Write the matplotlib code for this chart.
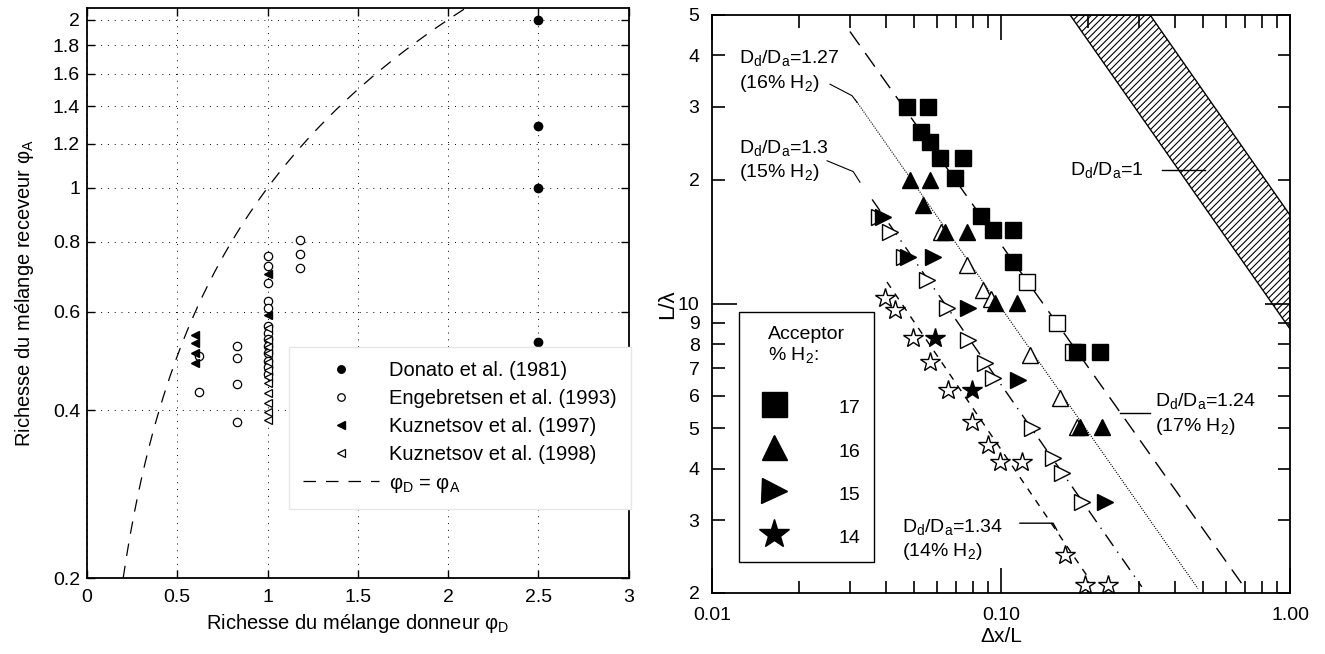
import matplotlib
matplotlib.use('Agg')
import matplotlib.pyplot as plt
import numpy as np
from matplotlib.lines import Line2D
from matplotlib.patches import Polygon
from matplotlib.ticker import NullLocator, NullFormatter

plt.rcParams['font.family'] = ['Liberation Sans', 'DejaVu Sans']
plt.rcParams['mathtext.fontset'] = 'custom'
plt.rcParams['mathtext.rm'] = 'Liberation Sans'
plt.rcParams['hatch.linewidth'] = 0.8

# ---------------- left panel data (phi_D, phi_A) ----------------
donato_x = [2.5, 2.5, 2.5, 2.5]
donato_y = [2.0, 1.29, 1.0, 0.53]

enge_x = [0.62, 0.62, 0.83, 0.83, 0.83, 0.83,
          1.0, 1.0, 1.0, 1.0, 1.0, 1.0, 1.0, 1.0, 1.0, 1.0, 1.0, 1.0, 1.0,
          1.18, 1.18, 1.18]
enge_y = [0.50, 0.431, 0.52, 0.496, 0.446, 0.381,
          0.755, 0.725, 0.675, 0.627, 0.61, 0.565, 0.55, 0.535, 0.52, 0.505, 0.49, 0.478, 0.465,
          0.807, 0.762, 0.719]

kuz97_x = [0.6, 0.6, 0.6, 0.6, 1.0, 1.0]
kuz97_y = [0.545, 0.527, 0.506, 0.486, 0.70, 0.592]

kuz98_x = [1.0] * 12
kuz98_y = [0.561, 0.534, 0.519, 0.506, 0.488, 0.472, 0.459, 0.447, 0.429, 0.412, 0.397, 0.384]

diag = np.linspace(0.2, 2.2, 200)

xticks_l = [0, 0.5, 1, 1.5, 2, 2.5, 3]
xticklabels_l = ['0', '0.5', '1', '1.5', '2', '2.5', '3']
yticks_l = [0.2, 0.4, 0.6, 0.8, 1, 1.2, 1.4, 1.6, 1.8, 2]
yticklabels_l = ['0.2', '0.4', '0.6', '0.8', '1', '1.2', '1.4', '1.6', '1.8', '2']

# ---------------- right panel data (dx/L, L/lambda) ----------------
sq_x = [0.0473, 0.0559, 0.0529, 0.0568, 0.0615, 0.0739, 0.0693, 0.0853, 0.0938, 0.110, 0.110, 0.1832, 0.2202]
sq_y = [30.0, 30.0, 26.1, 24.6, 22.6, 22.6, 20.2, 16.3, 15.1, 15.1, 12.66, 7.66, 7.66]
sq_open_x = [0.123, 0.156, 0.1775]
sq_open_y = [11.3, 9.01, 7.66]

tri_x = [0.0484, 0.0568, 0.0537, 0.064, 0.0763, 0.0953, 0.1136, 0.1877, 0.2236]
tri_y = [20.0, 20.0, 17.4, 14.9, 14.9, 10.07, 10.07, 5.04, 5.04]
tri_open_x = [0.0619, 0.0763, 0.0867, 0.0922, 0.126, 0.16, 0.183]
tri_open_y = [14.9, 12.45, 10.83, 10.3, 7.54, 5.93, 5.04]

rt_x = [0.039, 0.0477, 0.0582, 0.0769, 0.1145, 0.229]
rt_y = [16.2, 13.02, 13.02, 9.8, 6.56, 3.32]
rt_open_x = [0.0378, 0.0413, 0.0462, 0.0555, 0.065, 0.0769, 0.088, 0.0938, 0.128, 0.1514, 0.1626, 0.1907]
rt_open_y = [16.2, 14.97, 13.0, 11.45, 9.8, 8.2, 7.21, 6.63, 5.02, 4.25, 3.9, 3.32]

star_x = [0.0591, 0.0794]
star_y = [8.29, 6.2]
star_open_x = [0.0397, 0.043, 0.0496, 0.0568, 0.0655, 0.0794, 0.0902, 0.0992, 0.1183, 0.1665, 0.1953, 0.2346]
star_open_y = [10.36, 9.69, 8.29, 7.25, 6.2, 5.19, 4.56, 4.15, 4.15, 2.47, 2.09, 2.09]

line124_x = [0.030, 0.70]
line124_y = [45.6, 2.05]
line127_x = [0.0313, 0.48]
line127_y = [31.2, 2.05]
line130_x = [0.0358, 0.307]
line130_y = [17.9, 2.07]
line134_x = [0.0403, 0.203]
line134_y = [11.3, 2.15]

band_x = [0.1734, 0.328, 1.0, 1.0]
band_y = [50.0, 50.0, 16.4, 8.7]

acceptor_labels = ['17', '16', '15', '14']

fig = plt.figure(figsize=(13.25, 6.54), dpi=100)

# ================= left panel =================
ax1 = fig.add_axes([0.0657, 0.116, 0.4087, 0.872])
ax1.set_yscale('log')
ax1.set_xlim(0, 3)
ax1.set_ylim(0.2, 2.1)
ax1.set_xticks(xticks_l, xticklabels_l)
ax1.set_yticks(yticks_l, yticklabels_l)
ax1.yaxis.set_minor_locator(NullLocator())
ax1.yaxis.set_minor_formatter(NullFormatter())
ax1.grid(True, color='k', linestyle=(0, (1, 6)), linewidth=0.7)
ax1.tick_params(direction='in', top=True, right=True, length=6, width=1,
                labelsize=14, pad=5)
ax1.tick_params(axis='x', pad=8)
for s in ax1.spines.values():
    s.set_linewidth(1.3)

ax1.plot(donato_x, donato_y, 'o', color='k', markersize=6, label='Donato et al. (1981)', clip_on=False)
ax1.plot(enge_x, enge_y, 'o', mfc='white', mec='k', mew=0.9, markersize=6, label='Engebretsen et al. (1993)')
ax1.plot(kuz98_x, kuz98_y, '<', mfc='white', mec='k', mew=0.9, markersize=6, label='Kuznetsov et al. (1998)')
ax1.plot(kuz97_x, kuz97_y, '<', color='k', markersize=6, label='Kuznetsov et al. (1997)')
ax1.plot(diag, diag, color='k', linewidth=0.9, linestyle=(0, (10, 8)),
         label='φ$_{\\mathregular{D}}$ = φ$_{\\mathregular{A}}$')

h, l = ax1.get_legend_handles_labels()
order = [0, 1, 3, 2, 4]
leg1 = ax1.legend([h[i] for i in order], [l[i] for i in order],
                  loc='upper left', bbox_to_anchor=(0.372, 0.405), fontsize=14.5,
                  frameon=True, fancybox=False, edgecolor='#e6e6e6', framealpha=1,
                  handlelength=3.8, handletextpad=0.5, labelspacing=0.45,
                  borderpad=0.7, borderaxespad=0, markerscale=0.9)

ax1.set_xlabel('Richesse du mélange donneur φ$_{\\mathregular{D}}$', fontsize=14.5, labelpad=4)
ax1.set_ylabel('Richesse du mélange receveur φ$_{\\mathregular{A}}$', fontsize=14.5, labelpad=12)

# ================= right panel =================
ax2 = fig.add_axes([0.5374, 0.0933, 0.4362, 0.8838])
ax2.set_xscale('log')
ax2.set_yscale('log')
ax2.set_xlim(0.01, 1)
ax2.set_ylim(2, 50)

ax2.set_xticks([0.01, 0.1, 1], ['0.01', '0.10', '1.00'])
ax2.set_yticks([10], ['10'])
ax2.set_yticks([2, 3, 4, 5, 6, 7, 8, 9, 20, 30, 40, 50],
               ['2', '3', '4', '5', '6', '7', '8', '9', '2', '3', '4', '5'], minor=True)
ax2.tick_params(which='both', direction='in', top=True, right=True, labelsize=14, width=1.2)
ax2.tick_params(which='major', length=18)
ax2.tick_params(which='minor', length=9)
ax2.tick_params(axis='x', which='both', pad=10)
ax2.tick_params(axis='y', which='both', pad=9)
for s in ax2.spines.values():
    s.set_linewidth(1.3)

band = Polygon(list(zip(band_x, band_y)), closed=True, facecolor='white',
               edgecolor='k', linewidth=1.0, hatch='/////', zorder=1)
ax2.add_patch(band)

ax2.plot(line124_x, line124_y, color='k', linewidth=1.0, linestyle=(0, (12, 7)), zorder=2)
ax2.plot(line127_x, line127_y, color='k', linewidth=0.8, linestyle=(0, (1, 1.2)), zorder=2)
ax2.plot(line130_x, line130_y, color='k', linewidth=1.0, linestyle=(0, (10, 5, 1, 5)), zorder=2)
ax2.plot(line134_x, line134_y, color='k', linewidth=1.0, linestyle=(0, (5, 5)), zorder=2)

ms = 12
ax2.plot(sq_open_x, sq_open_y, 's', mfc='white', mec='k', mew=1, markersize=ms, zorder=3, clip_on=False)
ax2.plot(tri_open_x, tri_open_y, '^', mfc='white', mec='k', mew=1, markersize=ms, zorder=3, clip_on=False)
ax2.plot(rt_open_x, rt_open_y, '>', mfc='white', mec='k', mew=1, markersize=ms, zorder=3, clip_on=False)
ax2.plot(star_open_x, star_open_y, '*', mfc='white', mec='k', mew=1, markersize=ms + 3, zorder=3, clip_on=False)
ax2.plot(sq_x, sq_y, 's', color='k', markersize=ms, zorder=4, clip_on=False)
ax2.plot(tri_x, tri_y, '^', color='k', markersize=ms, zorder=4, clip_on=False)
ax2.plot(rt_x, rt_y, '>', color='k', markersize=ms, zorder=4, clip_on=False)
ax2.plot(star_x, star_y, '*', color='k', markersize=ms + 3, zorder=4, clip_on=False)

# annotations
tfs = 14
ax2.text(0.0124, 36.5, 'D$_\\mathregular{d}$/D$_\\mathregular{a}$=1.27\n(16% H$_\\mathregular{2}$)',
         fontsize=tfs, va='center', ha='left', linespacing=1.25)
ax2.plot([0.0256, 0.0305, 0.0318], [34.0, 31.9, 30.7], color='k', linewidth=0.8)
ax2.text(0.0124, 22.2, 'D$_\\mathregular{d}$/D$_\\mathregular{a}$=1.3\n(15% H$_\\mathregular{2}$)',
         fontsize=tfs, va='center', ha='left', linespacing=1.25)
ax2.plot([0.025, 0.0308, 0.0325], [22.2, 20.9, 19.7], color='k', linewidth=0.8)
ax2.text(0.1734, 21.0, 'D$_\\mathregular{d}$/D$_\\mathregular{a}$=1',
         fontsize=tfs, va='center', ha='left')
ax2.plot([0.3606, 0.508], [21.1, 21.1], color='k', linewidth=1.0, zorder=3)
ax2.text(0.341, 5.4, 'D$_\\mathregular{d}$/D$_\\mathregular{a}$=1.24\n(17% H$_\\mathregular{2}$)',
         fontsize=tfs, va='center', ha='left', linespacing=1.25)
ax2.plot([0.258, 0.328], [5.46, 5.46], color='k', linewidth=1.0)
ax2.text(0.0454, 2.69, 'D$_\\mathregular{d}$/D$_\\mathregular{a}$=1.34\n(14% H$_\\mathregular{2}$)',
         fontsize=tfs, va='center', ha='left', linespacing=1.25)
ax2.plot([0.1163, 0.1514, 0.156], [2.95, 2.95, 2.84], color='k', linewidth=1.0)

handles = [Line2D([], [], marker='s', color='k', ls='none', markersize=18),
           Line2D([], [], marker='^', color='k', ls='none', markersize=18),
           Line2D([], [], marker='>', color='k', ls='none', markersize=18),
           Line2D([], [], marker='*', color='k', ls='none', markersize=22)]
leg2 = ax2.legend(handles, acceptor_labels, title='Acceptor\n% H$_\\mathregular{2}$:',
                  loc='upper left', bbox_to_anchor=(0.047, 0.486), fontsize=14,
                  title_fontsize=14, frameon=True, fancybox=False, edgecolor='k',
                  framealpha=1, handlelength=2.2, handleheight=1.5, handletextpad=2.2,
                  labelspacing=1.0, borderpad=0.7, borderaxespad=0)
leg2.get_frame().set_linewidth(1.0)
# wider gap between the title and the first row
leg2._legend_box.sep = 21

ax2.set_xlabel('Δx/L', fontsize=15, labelpad=2)
ax2.set_ylabel('L/λ', fontsize=16, labelpad=0)

fig.savefig('out.png', dpi=100)
